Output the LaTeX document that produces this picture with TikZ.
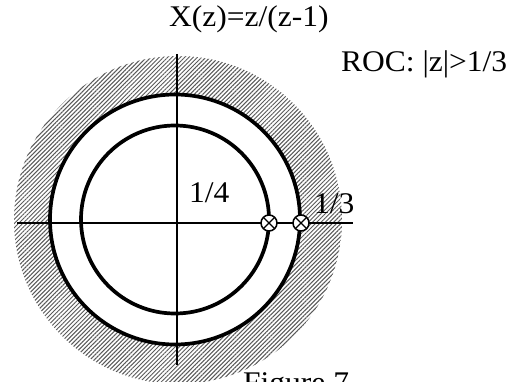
\documentclass[tikz,border=0pt]{standalone}
\usepackage{fontspec}
\setmainfont{Liberation Serif}
\usetikzlibrary{patterns.meta}
\tikzset{
  lbl/.style={inner sep=0pt, anchor=base west, font=\fontsize{30}{32}\selectfont},
  thickcirc/.style={line width=3.7pt},
  axis/.style={line width=1.9pt},
  zeropole/.style={draw, circle, fill=white, line width=1.5pt, minimum size=16pt, inner sep=0pt,
    path picture={\draw[line width=1.4pt] (path picture bounding box.north west) -- (path picture bounding box.south east)
      (path picture bounding box.north east) -- (path picture bounding box.south west);}},
  hatch/.style={pattern={Lines[angle=45,distance=3pt,line width=1pt]}, pattern color=black!65}
}
\begin{document}
\begin{tikzpicture}[x=1pt,y=-1pt]
\useasboundingbox (0,0) rectangle (519,382);
\clip (0,0) rectangle (519,382);
\fill[white] (0,0) rectangle (519,382);
% hatched ROC
\fill[hatch, even odd rule] (178,220) circle[radius=164pt] (175,219.5) circle[radius=125pt];
% axes
\coordinate (xl) at (17,223);
\coordinate (xr) at (353,223);
\coordinate (yt) at (177,54);
\coordinate (yb) at (177,365);
\draw[axis] (xl) -- (xr);
\draw[axis] (yt) -- (yb);
% circles
\coordinate (c) at (175,219.5);
\draw[thickcirc] (c) circle[radius=125pt];
\draw[thickcirc] (c) circle[radius=94pt];
% zeros/poles
\node[zeropole] (p1) at (269,223) {};
\node[zeropole] (p2) at (301,223) {};
% labels
\node[lbl] (title) at (169,27) {\scalebox{1.05}[1]{X(z)=z/(z-1)}};
\node[lbl] (roc) at (341,72) {\scalebox{1.05}[1]{ROC: |z|>1/3}};
\node[lbl] (q) at (189,202) {\scalebox{1.05}[1]{1/4}};
\node[lbl] (t) at (314,213) {\scalebox{1.05}[1]{1/3}};
\node[lbl] (fig) at (243,392) {\scalebox{1.05}[1]{Figure 7}};
\end{tikzpicture}
\end{document}
